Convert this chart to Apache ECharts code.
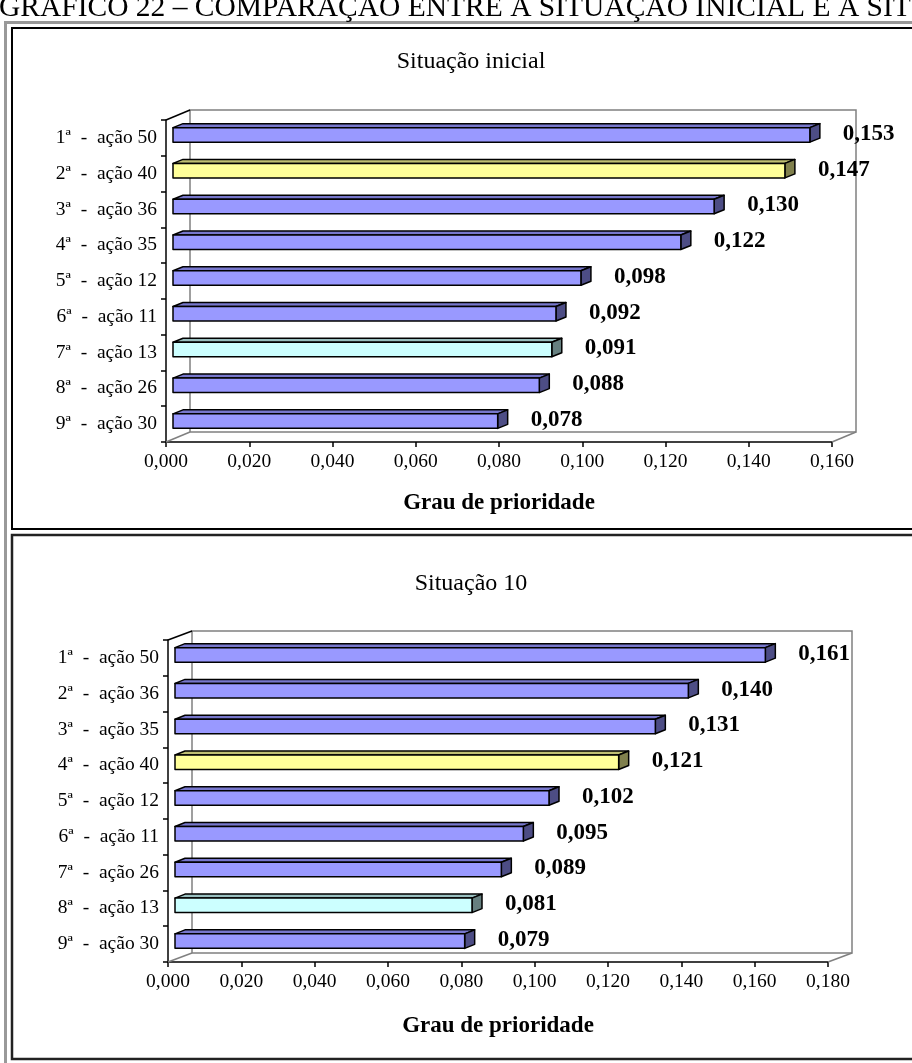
<!DOCTYPE html>
<html lang="pt">
<head>
<meta charset="utf-8" />
<title>Gráfico 22</title>
<script src="https://cdn.jsdelivr.net/npm/echarts@6/dist/echarts.min.js"></script>
<style>
  html, body { margin: 0; padding: 0; background: #fff; }
  #chart { width: 912px; height: 1063px; }
</style>
</head>
<body>
<div id="chart"></div>
<script>
// dados
const headerText = 'GRÁFICO 22 – COMPARAÇÃO ENTRE A SITUAÇÃO INICIAL E A SITUAÇÃO 10'
const titleInicial = 'Situação inicial'
const title10 = 'Situação 10'
const axisName = 'Grau de prioridade'

const categoriesInicial = [
  '1ª  -  ação 50', '2ª  -  ação 40', '3ª  -  ação 36', '4ª  -  ação 35', '5ª  -  ação 12',
  '6ª  -  ação 11', '7ª  -  ação 13', '8ª  -  ação 26', '9ª  -  ação 30',
]
const valuesInicial = [0.153, 0.147, 0.130, 0.122, 0.098, 0.092, 0.091, 0.088, 0.078]

const categories10 = [
  '1ª  -  ação 50', '2ª  -  ação 36', '3ª  -  ação 35', '4ª  -  ação 40', '5ª  -  ação 12',
  '6ª  -  ação 11', '7ª  -  ação 26', '8ª  -  ação 13', '9ª  -  ação 30',
]
const values10 = [0.161, 0.140, 0.131, 0.121, 0.102, 0.095, 0.089, 0.081, 0.079]

const maxInicial = 0.16
const max10 = 0.18
const tickStep = 0.02

// estilos
const FONT = '"Liberation Serif", "Times New Roman", serif'
const barColors = {
  default: { front: '#9999FF', top: '#7777CC', side: '#4D4D85' },
  'ação 40': { front: '#FFFF99', top: '#BFBF73', side: '#80804D' },
  'ação 13': { front: '#CCFFFF', top: '#99BFBF', side: '#668080' },
}

const grids = [
  { left: 166, top: 120, width: 666, height: 322, dx: 24, dy: -10, nameGap: 50 },
  { left: 168, top: 640, width: 660, height: 322, dx: 24, dy: -9, nameGap: 53 },
]

function colorsFor(category) {
  const key = category.split('-')[1].trim()
  return barColors[key] || barColors.default
}

function fmt(v) {
  return v.toFixed(3).replace('.', ',')
}

function makeRenderBar(categories) {
  return function (params, api) {
    const value = api.value(0)
    const cat = api.value(1)
    const start = api.coord([0, cat])
    const end = api.coord([value, cat])
    const h = 14.5
    const ox = 7
    const sx = 10
    const sy = -4
    const x0 = start[0] + ox
    const x1 = end[0] + ox
    const y0 = start[1] - 3 - h / 2
    const y1 = y0 + h
    const c = colorsFor(categories[params.dataIndex])
    const line = { stroke: '#000', lineWidth: 1.5, lineJoin: 'round' }
    return {
      type: 'group',
      children: [
        {
          type: 'polygon',
          shape: { points: [[x0, y0], [x0 + sx, y0 + sy], [x1 + sx, y0 + sy], [x1, y0]] },
          style: Object.assign({ fill: c.top }, line),
        },
        {
          type: 'polygon',
          shape: { points: [[x1, y0], [x1 + sx, y0 + sy], [x1 + sx, y1 + sy], [x1, y1]] },
          style: Object.assign({ fill: c.side }, line),
        },
        {
          type: 'rect',
          shape: { x: x0, y: y0, width: x1 - x0, height: h },
          style: Object.assign({ fill: c.front }, line),
        },
        {
          type: 'text',
          style: {
            text: fmt(value),
            x: x1 + sx + 23,
            y: start[1] - 4,
            fill: '#000',
            font: 'bold 23px ' + FONT,
            align: 'left',
            verticalAlign: 'middle',
          },
        },
      ],
    }
  }
}

function wallGraphics(g) {
  const L = g.left, T = g.top, R = g.left + g.width, B = g.top + g.height
  const gray = { stroke: '#808080', lineWidth: 1.5, fill: null }
  return [
    { type: 'rect', z: 1, shape: { x: L + g.dx, y: T + g.dy, width: g.width, height: g.height }, style: gray },
    { type: 'line', z: 1, shape: { x1: L, y1: B, x2: L + g.dx, y2: B + g.dy }, style: gray },
    { type: 'line', z: 1, shape: { x1: R, y1: B, x2: R + g.dx, y2: B + g.dy }, style: gray },
    { type: 'line', z: 1, shape: { x1: L, y1: T, x2: L + g.dx, y2: T + g.dy }, style: { stroke: '#000', lineWidth: 1.5 } },
  ]
}

function xAxisFor(gridIndex, max) {
  return {
    type: 'value',
    gridIndex,
    min: 0,
    max,
    interval: tickStep,
    name: axisName,
    nameLocation: 'middle',
    nameGap: grids[gridIndex].nameGap,
    nameTextStyle: { fontFamily: FONT, fontWeight: 'bold', fontSize: 23, color: '#000' },
    axisLine: { show: true, lineStyle: { color: '#000', width: 1.5 } },
    axisTick: { show: true, length: 5, lineStyle: { color: '#000', width: 1.5 } },
    axisLabel: { margin: 10, fontFamily: FONT, fontSize: 19.5, color: '#000', formatter: fmt },
    splitLine: { show: false },
  }
}

function yAxisFor(gridIndex, categories) {
  return {
    type: 'category',
    gridIndex,
    inverse: true,
    data: categories,
    axisLine: { show: true, lineStyle: { color: '#000', width: 1.5 } },
    axisTick: { show: true, length: 5, lineStyle: { color: '#000', width: 1.5 } },
    axisLabel: { margin: 9, fontFamily: FONT, fontSize: 19.5, color: '#000' },
    splitLine: { show: false },
  }
}

const chart = echarts.init(document.getElementById('chart'), null, { renderer: 'canvas' })

const option = {
  backgroundColor: '#fff',
  animation: false,
  grid: grids.map((g) => ({ left: g.left, top: g.top, width: g.width, height: g.height })),
  xAxis: [xAxisFor(0, maxInicial), xAxisFor(1, max10)],
  yAxis: [yAxisFor(0, categoriesInicial), yAxisFor(1, categories10)],
  series: [
    {
      type: 'custom',
      xAxisIndex: 0,
      yAxisIndex: 0,
      renderItem: makeRenderBar(categoriesInicial),
      encode: { x: 0, y: 1 },
      data: valuesInicial.map((v, i) => [v, i]),
      z: 3,
    },
    {
      type: 'custom',
      xAxisIndex: 1,
      yAxisIndex: 1,
      renderItem: makeRenderBar(categories10),
      encode: { x: 0, y: 1 },
      data: values10.map((v, i) => [v, i]),
      z: 3,
    },
  ],
  graphic: [
    // moldura cinza da página
    { type: 'line', z: 0, shape: { x1: 5.5, y1: 22, x2: 5.5, y2: 1063 }, style: { stroke: '#999', lineWidth: 3 } },
    { type: 'line', z: 0, shape: { x1: 4, y1: 22.5, x2: 912, y2: 22.5 }, style: { stroke: '#999', lineWidth: 3 } },
    // caixas dos dois gráficos
    { type: 'rect', z: 0, shape: { x: 12, y: 28, width: 910, height: 501 }, style: { stroke: '#000', lineWidth: 2, fill: null } },
    { type: 'rect', z: 0, shape: { x: 12, y: 535, width: 910, height: 524 }, style: { stroke: '#222', lineWidth: 2.5, fill: null } },
    {
      type: 'text', z: 5,
      style: { text: headerText, x: -1, y: 8, font: '29.5px ' + FONT, fill: '#000', verticalAlign: 'middle' },
    },
    {
      type: 'text', z: 5,
      style: { text: titleInicial, x: 471, y: 62, font: '24px ' + FONT, fill: '#000', align: 'center', verticalAlign: 'middle' },
    },
    {
      type: 'text', z: 5,
      style: { text: title10, x: 471, y: 584, font: '24px ' + FONT, fill: '#000', align: 'center', verticalAlign: 'middle' },
    },
  ].concat(wallGraphics(grids[0]), wallGraphics(grids[1])),
}

chart.setOption(option)
</script>
</body>
</html>
